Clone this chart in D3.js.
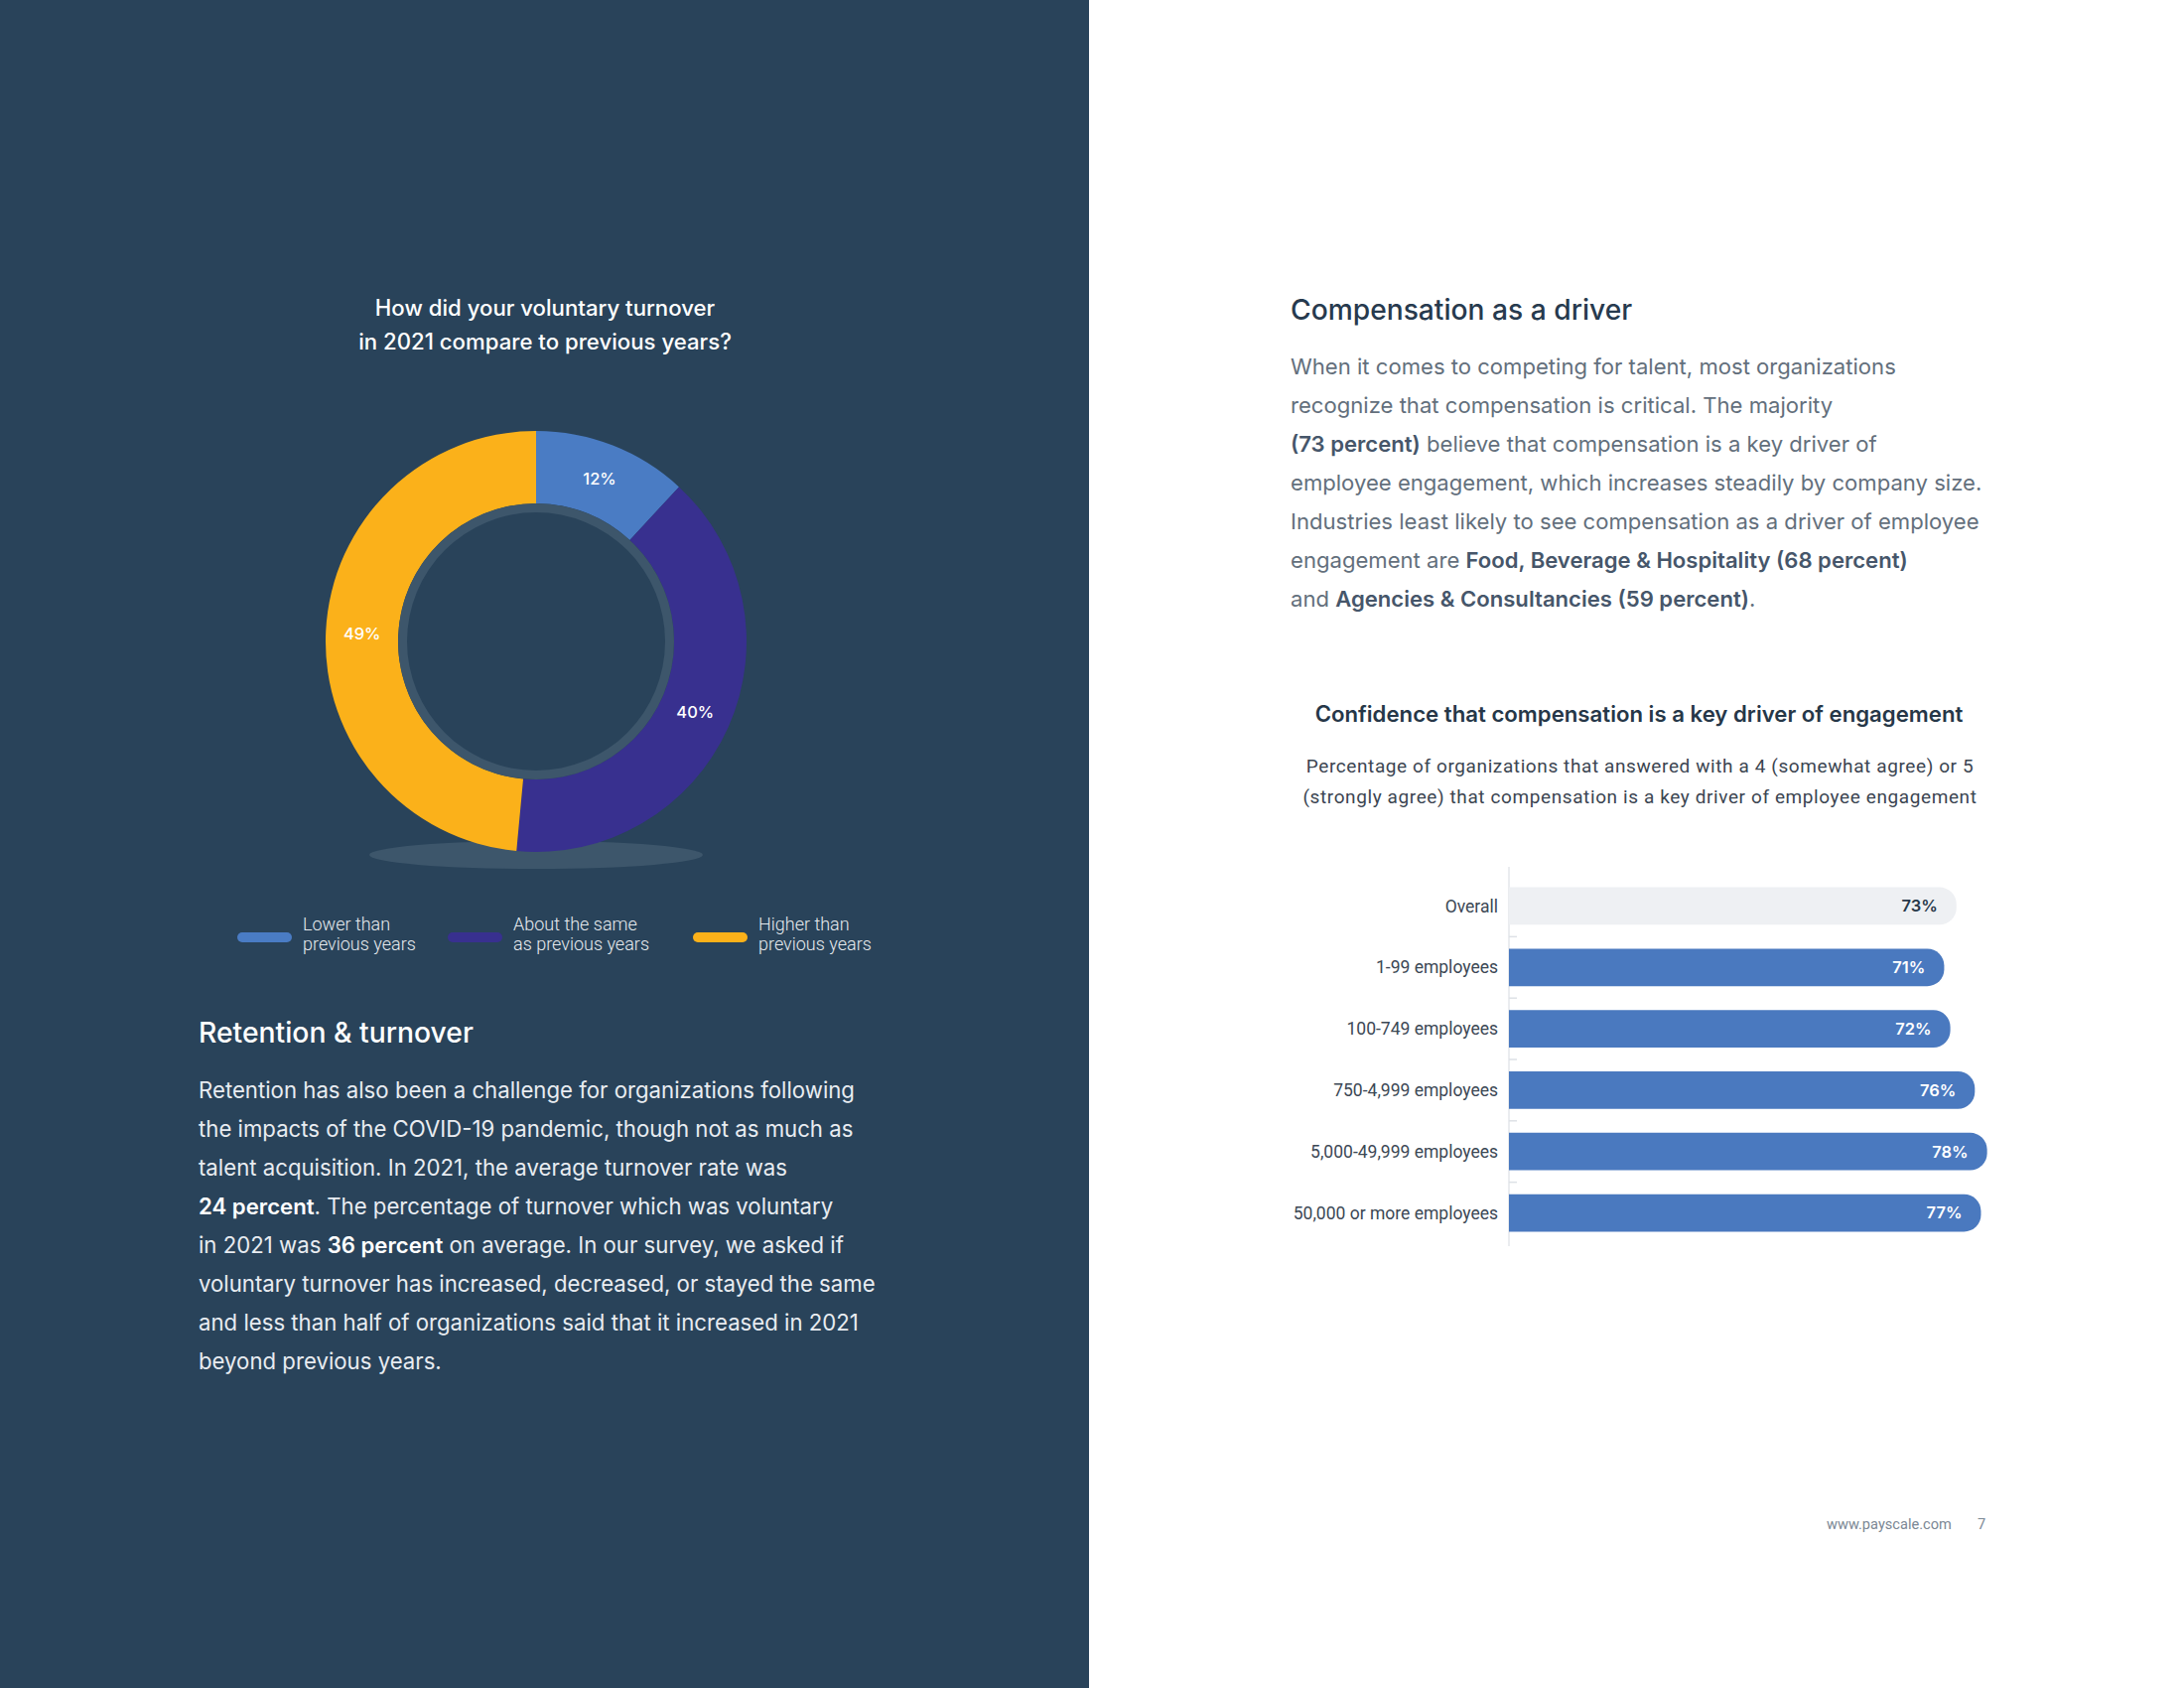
<!DOCTYPE html>
<html>
<head>
<meta charset="utf-8">
<script src="https://cdn.jsdelivr.net/npm/d3@7"></script>
<style>
  html, body { margin: 0; padding: 0; background: #ffffff; }
  svg { display: block; }
</style>
</head>
<body>
<script>
// ---------- DATA ----------
const donutCategories = ["Lower than previous years", "About the same as previous years", "Higher than previous years"];
const donutValues = [12, 40, 49];
const donutLabels = ["12%", "40%", "49%"];
const donutColors = ["#4a7cc4", "#38308f", "#fbb11a"];
const legendLines = [["Lower than", "previous years"], ["About the same", "as previous years"], ["Higher than", "previous years"]];

const barCategories = ["Overall", "1-99 employees", "100-749 employees", "750-4,999 employees", "5,000-49,999 employees", "50,000 or more employees"];
const barValues = [73, 71, 72, 76, 78, 77];
const barLabels = ["73%", "71%", "72%", "76%", "78%", "77%"];

const donutTitle = ["How did your voluntary turnover", "in 2021 compare to previous years?"];
const barTitle = "Confidence that compensation is a key driver of engagement";
const barSubtitle = ["Percentage of organizations that answered with a 4 (somewhat agree) or 5", "(strongly agree) that compensation is a key driver of employee engagement"];

const leftHeading = "Retention & turnover";
const leftBody = [
  [["Retention has also been a challenge for organizations following", 0]],
  [["the impacts of the COVID-19 pandemic, though not as much as", 0]],
  [["talent acquisition. In 2021, the average turnover rate was", 0]],
  [["24 percent", 1], [". The percentage of turnover which was voluntary", 0]],
  [["in 2021 was ", 0], ["36 percent", 1], [" on average. In our survey, we asked if", 0]],
  [["voluntary turnover has increased, decreased, or stayed the same", 0]],
  [["and less than half of organizations said that it increased in 2021", 0]],
  [["beyond previous years.", 0]]
];
const rightHeading = "Compensation as a driver";
const rightBody = [
  [["When it comes to competing for talent, most organizations", 0]],
  [["recognize that compensation is critical. The majority", 0]],
  [["(73 percent)", 1], [" believe that compensation is a key driver of", 0]],
  [["employee engagement, which increases steadily by company size.", 0]],
  [["Industries least likely to see compensation as a driver of employee", 0]],
  [["engagement are ", 0], ["Food, Beverage & Hospitality (68 percent)", 1]],
  [["and ", 0], ["Agencies & Consultancies (59 percent)", 1], [".", 0]]
];
const footerText = "www.payscale.com";
const pageNumber = "7";

// ---------- SETUP ----------
const W = 2200, H = 1700;
const svg = d3.select("body").append("svg").attr("width", W).attr("height", H);
const NAVY = "#29435a";
const FONT = "Inter, 'Noto Sans', sans-serif";
const LFONT = "Roboto, 'Noto Sans', sans-serif";

svg.append("rect").attr("x", 0).attr("y", 0).attr("width", W).attr("height", H).attr("fill", "#ffffff");
svg.append("rect").attr("x", 0).attr("y", 0).attr("width", 1097).attr("height", H).attr("fill", NAVY);

// ---------- DONUT ----------
const cx = 540, cy = 646;
const gDonut = svg.append("g");

gDonut.selectAll("text.dtitle").data(donutTitle).join("text")
  .attr("x", 549).attr("y", (d, i) => 318 + i * 33.5)
  .attr("text-anchor", "middle").attr("fill", "#ffffff")
  .attr("font-family", FONT).attr("font-size", 22.2).attr("font-weight", 500)
  .text(d => d);

gDonut.append("ellipse").attr("cx", cx).attr("cy", 861).attr("rx", 168).attr("ry", 14).attr("fill", "#3d566b");

const pie = d3.pie().sort(null).value(d => d)(donutValues);
const arc = d3.arc().innerRadius(139).outerRadius(212);
const g2 = gDonut.append("g").attr("transform", `translate(${cx},${cy})`);
g2.selectAll("path.seg").data(pie).join("path").attr("class", "seg")
  .attr("d", arc).attr("fill", (d, i) => donutColors[i]);
g2.append("path").attr("d", d3.arc().innerRadius(130).outerRadius(139).startAngle(0).endAngle(2 * Math.PI)())
  .attr("fill", "#3d566b");
const labelArc = d3.arc().innerRadius(139).outerRadius(212);
g2.selectAll("text.dl").data(pie).join("text")
  .attr("x", d => labelArc.centroid(d)[0]).attr("y", d => labelArc.centroid(d)[1])
  .attr("dy", "0.35em").attr("text-anchor", "middle").attr("fill", "#ffffff")
  .attr("font-family", FONT).attr("font-size", 16.5).attr("font-weight", 500)
  .text((d, i) => donutLabels[i]);

// legend
const legendSwatchX = [239, 451, 698];
const legendTextX = [305, 517, 764];
const gLeg = svg.append("g");
donutCategories.forEach((c, i) => {
  gLeg.append("rect").attr("x", legendSwatchX[i]).attr("y", 939).attr("width", 55).attr("height", 10)
    .attr("rx", 5).attr("fill", donutColors[i]);
  gLeg.append("text").attr("x", legendTextX[i]).attr("y", 937)
    .attr("fill", "#e6eaee").attr("font-family", LFONT).attr("font-size", 18).attr("font-weight", 300)
    .selectAll("tspan").data(legendLines[i]).join("tspan")
    .attr("x", legendTextX[i]).attr("dy", (d, j) => j === 0 ? 0 : 20).text(d => d);
});

// ---------- TEXT BLOCKS ----------
function paragraph(x, y0, step, lines, size, color, boldColor) {
  const t = svg.append("g");
  lines.forEach((segs, i) => {
    const tx = t.append("text").attr("x", x).attr("y", y0 + i * step)
      .attr("font-family", FONT).attr("font-size", size).attr("fill", color);
    segs.forEach(s => {
      const sp = tx.append("tspan").text(s[0]);
      if (s[1]) sp.attr("font-weight", 600).attr("fill", boldColor);
    });
  });
}

svg.append("text").attr("x", 200).attr("y", 1050).attr("fill", "#ffffff")
  .attr("font-family", FONT).attr("font-size", 28.3).attr("font-weight", 500).text(leftHeading);
paragraph(200, 1106, 39, leftBody, 22.2, "#e8ecf1", "#ffffff");

svg.append("text").attr("x", 1300).attr("y", 322).attr("fill", "#273a4e")
  .attr("font-family", FONT).attr("font-size", 28.2).attr("font-weight", 500).text(rightHeading);
paragraph(1300, 377, 39, rightBody, 22.1, "#636f7c", "#46566a");

// ---------- BAR CHART ----------
svg.append("text").attr("x", 1651).attr("y", 727).attr("text-anchor", "middle")
  .attr("fill", "#263748").attr("font-family", FONT).attr("font-size", 22.2).attr("font-weight", 600)
  .text(barTitle);
svg.selectAll("text.sub").data(barSubtitle).join("text").attr("class", "sub")
  .attr("x", 1652).attr("y", (d, i) => 778 + i * 31).attr("text-anchor", "middle")
  .attr("fill", "#3b4551").attr("font-family", LFONT).attr("font-size", 19).attr("font-weight", 400)
  .attr("letter-spacing", 0.6)
  .text(d => d);

const x = d3.scaleLinear().domain([0, 100]).range([1520, 2137.5]);
const y = d3.scaleBand().domain(barCategories).range([880, 1254]).paddingInner(0.39).paddingOuter(0.22);
const gBar = svg.append("g");

// axis line and ticks between bands
gBar.append("line").attr("x1", x(0)).attr("x2", x(0)).attr("y1", 873).attr("y2", 1255)
  .attr("stroke", "#e3e6ea").attr("stroke-width", 1.5);
const tickYs = barCategories.slice(1).map(c => y(c) - y.step() * y.paddingInner() / 2);
gBar.selectAll("line.tk").data(tickYs).join("line").attr("class", "tk")
  .attr("x1", x(0)).attr("x2", x(0) + 8).attr("y1", d => d).attr("y2", d => d)
  .attr("stroke", "#dde1e6").attr("stroke-width", 1.5);

function barPath(x0, x1, yy, h, r) {
  return `M${x0},${yy}H${x1 - r}A${r},${r} 0 0 1 ${x1},${yy + r}V${yy + h - r}A${r},${r} 0 0 1 ${x1 - r},${yy + h}H${x0}Z`;
}
gBar.selectAll("path.bar").data(barValues).join("path").attr("class", "bar")
  .attr("d", (d, i) => barPath(x(0), x(d), y(barCategories[i]), y.bandwidth(), 17))
  .attr("fill", (d, i) => i === 0 ? "#eef0f3" : "#4a79bf");

gBar.selectAll("text.val").data(barValues).join("text").attr("class", "val")
  .attr("x", d => x(d) - 19).attr("y", (d, i) => y(barCategories[i]) + y.bandwidth() / 2)
  .attr("dy", "0.35em").attr("text-anchor", "end")
  .attr("fill", (d, i) => i === 0 ? "#27384a" : "#ffffff")
  .attr("font-family", FONT).attr("font-size", 16.5).attr("font-weight", 600)
  .text((d, i) => barLabels[i]);

gBar.selectAll("text.cat").data(barCategories).join("text").attr("class", "cat")
  .attr("x", 1509).attr("y", d => y(d) + y.bandwidth() / 2).attr("dy", "0.35em")
  .attr("text-anchor", "end").attr("fill", "#3c4855")
  .attr("font-family", LFONT).attr("font-size", 17.5).attr("font-weight", 400)
  .text(d => d);

// ---------- FOOTER ----------
svg.append("text").attr("x", 1840).attr("y", 1540).attr("fill", "#7b8794")
  .attr("font-family", LFONT).attr("font-size", 14.6).text(footerText);
svg.append("text").attr("x", 1992).attr("y", 1540).attr("fill", "#7b8794")
  .attr("font-family", LFONT).attr("font-size", 14.6).text(pageNumber);
</script>
</body>
</html>
